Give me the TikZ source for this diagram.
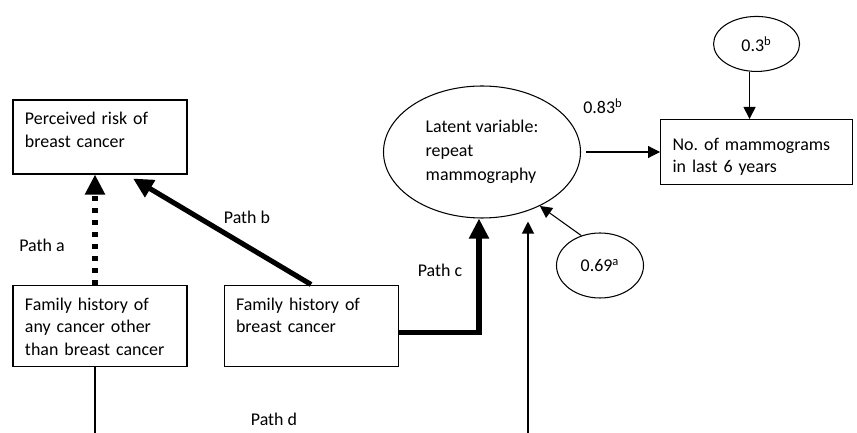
\documentclass[tikz,border=0pt]{standalone}
\usepackage{fontspec}
\setmainfont{Carlito}
\usetikzlibrary{shapes.geometric,arrows.meta,positioning}

\begin{document}
\begin{tikzpicture}[node distance=1.0cm, >=Latex,
    varbox/.style={rectangle, draw, line width=0.6pt, text width=3.0cm, align=left, inner xsep=0.24cm, inner ysep=0.15cm, text height=0.35cm, text depth=0.97cm, font=\fontsize{10.2}{12.8}\selectfont},
    latentvar/.style={ellipse, draw, line width=0.6pt, minimum width=3.94cm, minimum height=2.64cm, inner sep=0pt, align=left, font=\fontsize{10.2}{13.6}\selectfont},
    errvar/.style={ellipse, draw, line width=0.6pt, minimum width=1.72cm, minimum height=1.1cm, inner sep=0pt, font=\fontsize{10.2}{12.8}\selectfont},
    thickpath/.style={line width=2.9pt, -{Triangle[length=0.4cm, width=0.38cm]}},
    dotpath/.style={thickpath, dash pattern=on 0.09cm off 0.15cm},
    thinpath/.style={line width=0.6pt, -{Triangle[length=0.24cm, width=0.24cm]}},
    pathlabel/.style={font=\fontsize{10.2}{12.8}\selectfont}]

    \useasboundingbox (0,0) rectangle (17.14,8.66);

    \node [varbox, text depth=0.83cm] (risk) at (2.0,5.92) {Perceived risk of\\breast cancer};
    \node [varbox, below=2.2cm of risk] (anyhist) {Family history of\\any cancer other\\than breast cancer};
    \node [varbox, right=0.72cm of anyhist] (breasthist) {Family history of\\breast cancer};
    \node [latentvar] (latent) at (9.64,5.62) {Latent variable:\\repeat\\mammography};
    \node [varbox, text width=3.36cm, text height=0.47cm, text depth=0.53cm, right=1.58cm of latent] (mammo) {No.\ of mammograms\\in last 6 years};
    \node [errvar, above=0.94cm of mammo] (err03) {0.3\textsuperscript{b}};
    \node [errvar, minimum width=1.74cm, minimum height=1.3cm] (err069) at (12.0,3.35) {0.69\textsuperscript{a}};

    \coordinate (dleft) at (1.9,0);
    \coordinate (dright) at (10.56,0);

    \draw [dotpath] (dleft |- anyhist.north) -- (dleft |- risk.south);
    \draw [thickpath] (breasthist.north) -- ([shift={(0.66cm,-0.08cm)}]risk.south);
    \draw [thickpath] ([yshift=-0.13cm]breasthist.east) -| ([xshift=-0.06cm]latent.south);
    \draw [line width=0.6pt] (dleft |- anyhist.south) -- (dleft);
    \draw [thinpath] (dright) -- ([yshift=-0.06cm]dright |- latent.south);
    \draw [thinpath] (err069.122) -- (latent.-43);
    \draw [thinpath] ([xshift=0.1cm]latent.east) -- (latent.east -| mammo.west);
    \draw [thinpath] ([xshift=-0.14cm]err03.south) -- ([xshift=-0.14cm]err03.south |- mammo.north);

    \node [pathlabel] (labela) at (0.84,3.76) {Path a};
    \node [pathlabel] (labelb) at (4.94,4.32) {Path b};
    \node [pathlabel] (labelc) at (8.8,3.26) {Path c};
    \node [pathlabel] (labeld) at (5.48,0.28) {Path d};
    \node [pathlabel] (load) at (12.06,6.54) {0.83\textsuperscript{b}};
\end{tikzpicture}
\end{document}
